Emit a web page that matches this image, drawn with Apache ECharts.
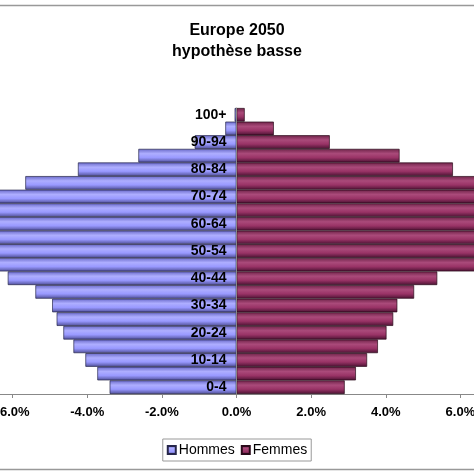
<!DOCTYPE html>
<html>
<head>
<meta charset="utf-8">
<script src="https://cdn.jsdelivr.net/npm/echarts@6/dist/echarts.min.js"></script>
<style>html,body{margin:0;padding:0;background:#fff}#c{width:474px;height:474px}</style>
</head>
<body>
<div id="c"></div>
<script>
// Age groups, bottom to top
const categories = ['0-4','5-9','10-14','15-19','20-24','25-29','30-34','35-39','40-44','45-49','50-54','55-59','60-64','65-69','70-74','75-79','80-84','85-89','90-94','95-99','100+'];
// Share of total population (%)
const hommes = [3.40, 3.73, 4.05, 4.37, 4.64, 4.82, 4.94, 5.39, 6.13, 6.8, 7.2, 7.3, 7.2, 7.0, 6.6, 5.66, 4.25, 2.63, 1.12, 0.30, 0.05];
const femmes = [2.90, 3.20, 3.50, 3.79, 4.02, 4.20, 4.31, 4.76, 5.38, 6.5, 7.1, 7.4, 7.5, 7.5, 7.4, 6.9, 5.80, 4.37, 2.50, 1.00, 0.22];
const xTicks = { min: -8, max: 8, step: 2 };

const font = "'Liberation Sans', Arial, sans-serif";
const gridLeft = -62, gridRight = -61;
const zeroOffset = -((474 - gridLeft - gridRight) / 2);
const grad = (c) => new echarts.graphic.LinearGradient(0, 0, 0, 1, [
  { offset: 0, color: c[0] }, { offset: 0.35, color: c[1] },
  { offset: 0.65, color: c[2] }, { offset: 1, color: c[3] }
]);
const chart = echarts.init(document.getElementById('c'));
chart.setOption({
  animation: false,
  backgroundColor: '#fff',
  title: {
    text: 'Europe 2050\nhypothèse basse',
    left: 'center', top: 20, padding: 0,
    textStyle: { fontFamily: font, fontSize: 16, fontWeight: 'bold', color: '#000', lineHeight: 21 }
  },
  graphic: [
    { type: 'line', shape: { x1: 0, y1: 5.5, x2: 474, y2: 5.5 }, style: { stroke: '#999', lineWidth: 1.5 } },
    { type: 'line', shape: { x1: 0, y1: 469.5, x2: 474, y2: 469.5 }, style: { stroke: '#999', lineWidth: 1.5 } }
  ],
  legend: {
    data: ['Hommes', 'Femmes'],
    left: 'center', top: 439,
    padding: [4, 4, 4, 4],
    borderColor: '#999', borderWidth: 1,
    icon: 'rect', itemWidth: 8, itemHeight: 8, itemGap: 6,
    textStyle: { fontFamily: font, fontSize: 14, color: '#000', padding: [0, 0, 0, -2] }
  },
  grid: { left: gridLeft, right: gridRight, top: 108, bottom: 80, containLabel: false, outerBoundsMode: 'none' },
  xAxis: {
    type: 'value', min: xTicks.min, max: xTicks.max, interval: xTicks.step,
    axisLine: { show: true, onZero: false, lineStyle: { color: '#888', width: 1 } },
    axisTick: { show: true, length: 4, lineStyle: { color: '#888' } },
    splitLine: { show: false },
    axisLabel: {
      margin: 12, fontFamily: font, fontSize: 13, fontWeight: 'bold', color: '#000',
      formatter: (v) => v.toFixed(1) + '%'
    }
  },
  yAxis: {
    type: 'category', data: categories,
    position: 'left', offset: zeroOffset,
    axisLine: { show: true, onZero: false, lineStyle: { color: '#888' } },
    axisTick: { show: false },
    axisLabel: { interval: 1, margin: 10, fontFamily: font, fontSize: 14, fontWeight: 'bold', color: '#000' },
    z: 10
  },
  series: [
    {
      name: 'Hommes', type: 'bar',
      data: hommes.map(v => -v),
      barGap: '-100%', barCategoryGap: '0%',
      itemStyle: { color: grad(['#6868c8', '#aeaeff', '#9999ff', '#4e4e96']), borderColor: '#26264a', borderWidth: 0.7 }
    },
    {
      name: 'Femmes', type: 'bar',
      data: femmes,
      barGap: '-100%', barCategoryGap: '0%',
      itemStyle: { color: grad(['#6e2348', '#aa4a7a', '#993366', '#4a1232']), borderColor: '#2a0a1a', borderWidth: 0.7 }
    }
  ]
});
</script>
</body>
</html>
